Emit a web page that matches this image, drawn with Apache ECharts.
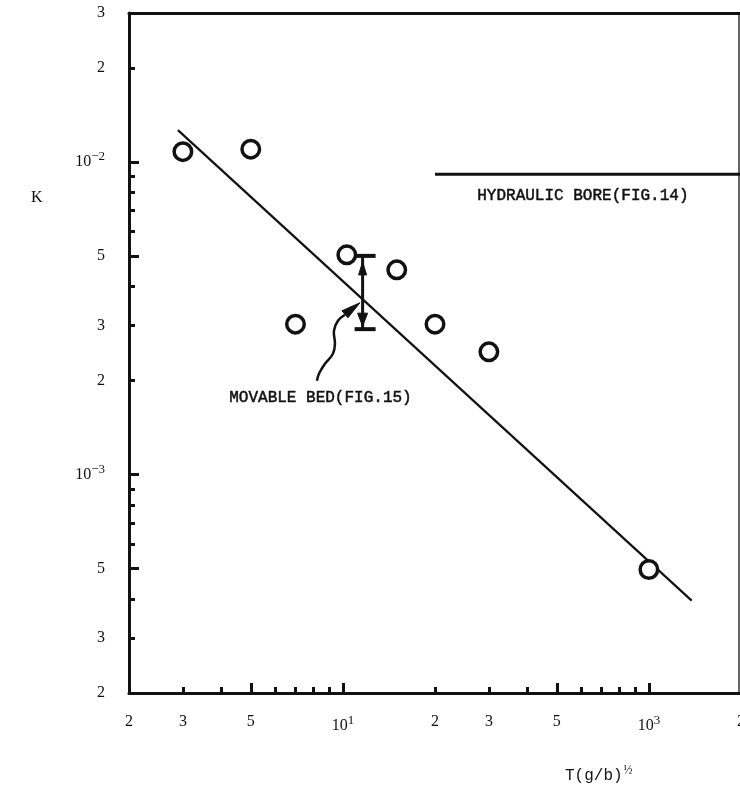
<!DOCTYPE html>
<html><head><meta charset="utf-8">
<script src="https://cdn.jsdelivr.net/npm/echarts@6/dist/echarts.min.js"></script>
<style>html,body{margin:0;padding:0;background:#fff}#c{width:740px;height:790px}</style>
</head><body><div id="c"></div>
<script>
// ---- data ----
const pointsX = [3, 5, 7, 10.3, 15, 20, 30, 100];
const pointsY = [0.0108, 0.0110, 0.00303, 0.00505, 0.00452, 0.00303, 0.00247, 0.000497];
const fitX = [2.89, 138];
const fitY = [0.01266, 0.000395];
const boreX = [20, 200];
const boreY = [0.00915, 0.00915];
const errBarX = [11.6];
const errBarLow = [0.00292];
const errBarHigh = [0.00501];
const pointerTip = [11.2, 0.00352];
const xTickValues = [2, 3, 5, 10, 20, 30, 50, 100, 200];
const xTickLabels = ['2', '3', '5', '10^1', '2', '3', '5', '10^3', '2'];
const xMinorTicks = [3, 4, 6, 7, 8, 9, 20, 30, 40, 60, 70, 80, 90];
const xMajorTicks = [5, 10, 50, 100];
const yTickValues = [2e-4, 3e-4, 5e-4, 1e-3, 2e-3, 3e-3, 5e-3, 1e-2, 2e-2, 3e-2];
const yTickLabels = ['2', '3', '5', '10^−3', '2', '3', '5', '10^−2', '2', '3'];
const yMinorTicks = [3e-4, 4e-4, 6e-4, 7e-4, 8e-4, 9e-4, 2e-3, 3e-3, 4e-3, 6e-3, 7e-3, 8e-3, 9e-3, 2e-2];
const yMajorTicks = [5e-4, 1e-3, 5e-3, 1e-2];
const xTitle = 'T(g/b)';
const yTitle = 'K';
const boreLabel = 'HYDRAULIC BORE(FIG.14)';
const bedLabel = 'MOVABLE BED(FIG.15)';

const INK = '#111';
const tickFont = 'Liberation Serif';

function makeFormatter(vals, labels) {
  return function (v) {
    for (let i = 0; i < vals.length; i++) {
      if (Math.abs(Math.log10(v) - Math.log10(vals[i])) < 1e-6) {
        const s = labels[i];
        const k = s.indexOf('^');
        if (k >= 0) return '{b|' + s.slice(0, k) + '}{sup|' + s.slice(k + 1) + '}';
        return '{b|' + s + '}';
      }
    }
    return '';
  };
}
const rich = {
  b: { fontFamily: tickFont, fontSize: 16, color: INK },
  sup: { fontFamily: tickFont, fontSize: 13, color: INK, padding: [0, 0, 11, 0] }
};

const chart = echarts.init(document.getElementById('c'), null, { renderer: 'canvas' });

chart.setOption({
  animation: false,
  backgroundColor: '#fff',
  grid: { left: 129, right: -1, top: 13, bottom: 97, outerBoundsMode: 'none', containLabel: false },
  xAxis: [
    {
      type: 'log', logBase: 10, min: 2, max: 200, position: 'bottom',
      axisLine: { onZero: false, lineStyle: { color: INK, width: 3 } },
      axisTick: { customValues: xMinorTicks, inside: true, length: 6, lineStyle: { color: INK, width: 3 } },
      axisLabel: { customValues: xTickValues, formatter: makeFormatter(xTickValues, xTickLabels), margin: 21, rich: rich, showMinLabel: true, showMaxLabel: true, hideOverlap: false },
      splitLine: { show: false }
    },
    {
      type: 'log', logBase: 10, min: 2, max: 200, position: 'bottom',
      axisLine: { show: false, onZero: false },
      axisTick: { customValues: xMajorTicks, inside: true, length: 10, lineStyle: { color: INK, width: 3 } },
      axisLabel: { show: false }, splitLine: { show: false }
    },
    {
      type: 'log', logBase: 10, min: 2, max: 200, position: 'top',
      axisLine: { onZero: false, lineStyle: { color: INK, width: 3 } },
      axisTick: { show: false }, axisLabel: { show: false }, splitLine: { show: false }
    }
  ],
  yAxis: [
    {
      type: 'log', logBase: 10, min: 2e-4, max: 3e-2, position: 'left',
      axisLine: { onZero: false, lineStyle: { color: INK, width: 3 } },
      axisTick: { customValues: yMinorTicks, inside: true, length: 6, lineStyle: { color: INK, width: 3 } },
      axisLabel: { customValues: yTickValues, formatter: makeFormatter(yTickValues, yTickLabels), margin: 24, rich: rich, showMinLabel: true, showMaxLabel: true, hideOverlap: false },
      splitLine: { show: false }
    },
    {
      type: 'log', logBase: 10, min: 2e-4, max: 3e-2, position: 'left',
      axisLine: { show: false, onZero: false },
      axisTick: { customValues: yMajorTicks, inside: true, length: 10, lineStyle: { color: INK, width: 3 } },
      axisLabel: { show: false }, splitLine: { show: false }
    }
  ],
  series: [
    {
      type: 'line', xAxisIndex: 0, yAxisIndex: 0,
      data: fitX.map((x, i) => [x, fitY[i]]),
      symbol: 'none', lineStyle: { color: INK, width: 2.2 }, z: 2
    },
    {
      type: 'line', xAxisIndex: 0, yAxisIndex: 0,
      data: boreX.map((x, i) => [x, boreY[i]]),
      symbol: 'none', lineStyle: { color: INK, width: 3 }, z: 2
    },
    {
      type: 'scatter', xAxisIndex: 0, yAxisIndex: 0,
      data: pointsX.map((x, i) => [x, pointsY[i]]),
      symbol: 'circle', symbolSize: 17.5,
      itemStyle: { color: '#fff', borderColor: INK, borderWidth: 3.5, opacity: 1 }, z: 4
    },
    {
      type: 'custom', xAxisIndex: 0, yAxisIndex: 0, z: 5,
      data: errBarX.map((x, i) => [x, errBarLow[i], errBarHigh[i]]),
      encode: { x: 0, y: [1, 2] },
      renderItem: function (params, api) {
        const x = api.value(0), lo = api.value(1), hi = api.value(2);
        const t = api.coord([x, hi]), b = api.coord([x, lo]);
        const s = { fill: INK, stroke: INK, lineWidth: 1 };
        return {
          type: 'group', children: [
            { type: 'line', shape: { x1: t[0], y1: t[1], x2: b[0], y2: b[1] }, style: { stroke: INK, lineWidth: 3 } },
            { type: 'line', shape: { x1: t[0] - 7, y1: t[1], x2: t[0] + 13, y2: t[1] }, style: { stroke: INK, lineWidth: 4 } },
            { type: 'line', shape: { x1: b[0] - 8, y1: b[1], x2: b[0] + 13, y2: b[1] }, style: { stroke: INK, lineWidth: 4 } },
            { type: 'polygon', shape: { points: [[t[0], t[1] + 6], [t[0] - 4, t[1] + 19], [t[0] + 4, t[1] + 19]] }, style: s },
            { type: 'polygon', shape: { points: [[b[0], b[1] - 3], [b[0] - 5, b[1] - 16], [b[0] + 5, b[1] - 16]] }, style: s }
          ]
        };
      }
    },
    {
      type: 'custom', xAxisIndex: 0, yAxisIndex: 0, z: 5,
      data: [pointerTip],
      renderItem: function (params, api) {
        const p = api.coord([api.value(0), api.value(1)]);
        const X = p[0], Y = p[1];
        const pts = [[-13, 11], [-20, 17], [-24, 27], [-23, 40], [-25, 50], [-33, 60], [-39, 70], [-41, 77]]
          .map(d => [X + d[0], Y + d[1]]);
        return {
          type: 'group', children: [
            { type: 'polyline', shape: { points: pts, smooth: 0.4 }, style: { stroke: INK, lineWidth: 2.5, fill: null } },
            { type: 'polygon', shape: { points: [[X + 2, Y - 1], [X - 16, Y + 7], [X - 10, Y + 14]] }, style: { fill: INK, stroke: INK, lineWidth: 1 } }
          ]
        };
      }
    }
  ],
  graphic: [
    { type: 'line', shape: { x1: 739, y1: 13, x2: 739, y2: 693 }, style: { stroke: '#333', lineWidth: 1.5 } },
    { type: 'text', left: 31, top: 190, style: { text: yTitle, font: '16px "Liberation Serif"', fill: INK } },
    { type: 'text', left: 565, top: 765, style: { text: '{t|' + xTitle + '}{f|½}', rich: { t: { font: '16px "Liberation Mono"', fill: INK }, f: { font: '12px "Liberation Serif"', fill: INK, padding: [0, 0, 9, 1] } } } },
    { type: 'text', left: 477, top: 188, style: { text: boreLabel, font: '16px "Liberation Mono"', fill: INK, stroke: INK, lineWidth: 0.5 } },
    { type: 'text', left: 229, top: 390, style: { text: bedLabel, font: '16px "Liberation Mono"', fill: INK, stroke: INK, lineWidth: 0.5 } }
  ]
});
</script>
</body></html>
